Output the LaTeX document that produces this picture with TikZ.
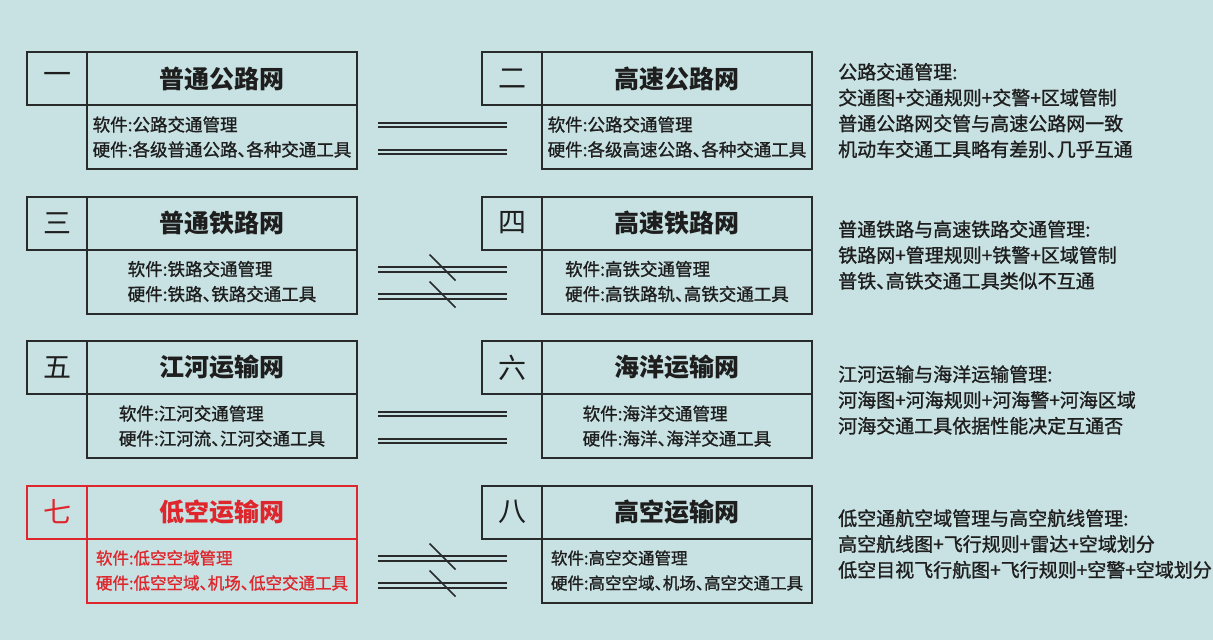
\documentclass[tikz,border=0pt]{standalone}
\usepackage{fontspec}
\newfontfamily\cjk{Noto Sans CJK SC}[RawFeature=+halt]
\newfontfamily\cjkmid{Noto Sans CJK SC}[RawFeature=+halt, FakeBold=1.2]
\usetikzlibrary{positioning, calc}
\definecolor{bgteal}{RGB}{200,226,227}
\definecolor{boxline}{RGB}{40,42,44}
\definecolor{inktext}{RGB}{30,30,30}
\definecolor{hired}{RGB}{222,38,44}

\begin{document}
\begin{tikzpicture}[x=1pt, y=-1pt,
                numbox/.style={draw=boxline, line width=2pt, minimum width=60pt, minimum height=53pt,
                               inner sep=0pt, outer sep=0pt, text=inktext, font=\cjk\fontsize{28}{28}\selectfont},
                titlebox/.style={draw=boxline, line width=2pt, minimum width=270pt, minimum height=53pt,
                               inner sep=0pt, outer sep=0pt, text=inktext, font=\cjk\bfseries\fontsize{25}{25}\selectfont},
                infobox/.style={draw=boxline, line width=2pt, minimum width=270pt, minimum height=64pt,
                               inner sep=0pt, outer sep=0pt, align=left, text=inktext,
                               font=\cjkmid\fontsize{17.5}{25}\selectfont},
                note/.style={anchor=west, align=left, inner sep=0pt, text=inktext,
                             font=\cjkmid\fontsize{19}{25.8}\selectfont},
                link/.style={draw=boxline, line width=2.1pt, double=bgteal, double distance=2.3pt},
                slash/.style={draw=boxline, line width=1.7pt},
                redrow/.style={draw=hired, text=hired}]

                % background and page size
                \fill[bgteal] (0,0) rectangle (1213,640);

                % row 1: roads
                \node[numbox] (n1) at (57,78.5) {一};
                \node[titlebox, right=0pt of n1] (t1) {普通公路网};
                \node[infobox, below=0pt of t1] (i1) {软件:公路交通管理\\硬件:各级普通公路、各种交通工具};
                \node[numbox] (n2) at (512,78.5) {二};
                \node[titlebox, right=0pt of n2] (t2) {高速公路网};
                \node[infobox, below=0pt of t2] (i2) {软件:公路交通管理\\硬件:各级高速公路、各种交通工具};

                % row 2: railways
                \node[numbox] (n3) at (57,223) {三};
                \node[titlebox, right=0pt of n3] (t3) {普通铁路网};
                \node[infobox, below=0pt of t3] (i3) {软件:铁路交通管理\\硬件:铁路、铁路交通工具};
                \node[numbox] (n4) at (512,223) {四};
                \node[titlebox, right=0pt of n4] (t4) {高速铁路网};
                \node[infobox, below=0pt of t4] (i4) {软件:高铁交通管理\\硬件:高铁路轨、高铁交通工具};

                % row 3: waterways
                \node[numbox] (n5) at (57,367.5) {五};
                \node[titlebox, right=0pt of n5] (t5) {江河运输网};
                \node[infobox, below=0pt of t5] (i5) {软件:江河交通管理\\硬件:江河流、江河交通工具};
                \node[numbox] (n6) at (512,367.5) {六};
                \node[titlebox, right=0pt of n6] (t6) {海洋运输网};
                \node[infobox, below=0pt of t6] (i6) {软件:海洋交通管理\\硬件:海洋、海洋交通工具};

                % row 4: air (low altitude in red), text a bit tighter
                \node[numbox, redrow] (n7) at (57,512) {七};
                \node[titlebox, redrow, right=0pt of n7] (t7) {低空运输网};
                \node[infobox, redrow, below=0pt of t7, font=\cjkmid\fontsize{16.5}{25}\selectfont] (i7)
                    {软件:低空空域管理\\硬件:低空空域、机场、低空交通工具};
                \node[numbox] (n8) at (512,512) {八};
                \node[titlebox, right=0pt of n8] (t8) {高空运输网};
                \node[infobox, below=0pt of t8, font=\cjkmid\fontsize{16.5}{25}\selectfont] (i8)
                    {软件:高空交通管理\\硬件:高空空域、机场、高空交通工具};

                % equal signs between the pairs
                \draw[link] ([xshift=21pt, yshift=12pt]i1.east) -- ([xshift=-35pt, yshift=12pt]i2.west);
                \draw[link] ([xshift=21pt, yshift=-15pt]i1.east) -- ([xshift=-35pt, yshift=-15pt]i2.west);
                \draw[link] ([xshift=21pt, yshift=12pt]i5.east) -- ([xshift=-35pt, yshift=12pt]i6.west);
                \draw[link] ([xshift=21pt, yshift=-15pt]i5.east) -- ([xshift=-35pt, yshift=-15pt]i6.west);

                % not-equal signs
                \draw[link] ([xshift=21pt, yshift=12pt]i3.east) -- coordinate (x3a) ([xshift=-35pt, yshift=12pt]i4.west);
                \draw[link] ([xshift=21pt, yshift=-15pt]i3.east) -- coordinate (x3b) ([xshift=-35pt, yshift=-15pt]i4.west);
                \draw[link] ([xshift=21pt, yshift=12pt]i7.east) -- coordinate (x7a) ([xshift=-35pt, yshift=12pt]i8.west);
                \draw[link] ([xshift=21pt, yshift=-15pt]i7.east) -- coordinate (x7b) ([xshift=-35pt, yshift=-15pt]i8.west);
                \draw[slash] ([shift={(-13pt,15pt)}]x3a) -- ([shift={(13pt,-11pt)}]x3a);
                \draw[slash] ([shift={(-13pt,15pt)}]x3b) -- ([shift={(13pt,-11pt)}]x3b);
                \draw[slash] ([shift={(-13pt,15pt)}]x7a) -- ([shift={(13pt,-11pt)}]x7a);
                \draw[slash] ([shift={(-13pt,15pt)}]x7b) -- ([shift={(13pt,-11pt)}]x7b);

                % management notes on the right
                \node[note] (m1) at (838,110.5) {公路交通管理:\\交通图+交通规则+交警+区域管制\\普通公路网交管与高速公路网一致\\机动车交通工具略有差别、几乎互通};
                \node[note] (m2) at (838,255) {普通铁路与高速铁路交通管理:\\铁路网+管理规则+铁警+区域管制\\普铁、高铁交通工具类似不互通};
                \node[note] (m3) at (838,400) {江河运输与海洋运输管理:\\河海图+河海规则+河海警+河海区域\\河海交通工具依据性能决定互通否};
                \node[note] (m4) at (838,544) {低空通航空域管理与高空航线管理:\\高空航线图+飞行规则+雷达+空域划分\\低空目视飞行航图+飞行规则+空警+空域划分};
\end{tikzpicture}
\end{document}
